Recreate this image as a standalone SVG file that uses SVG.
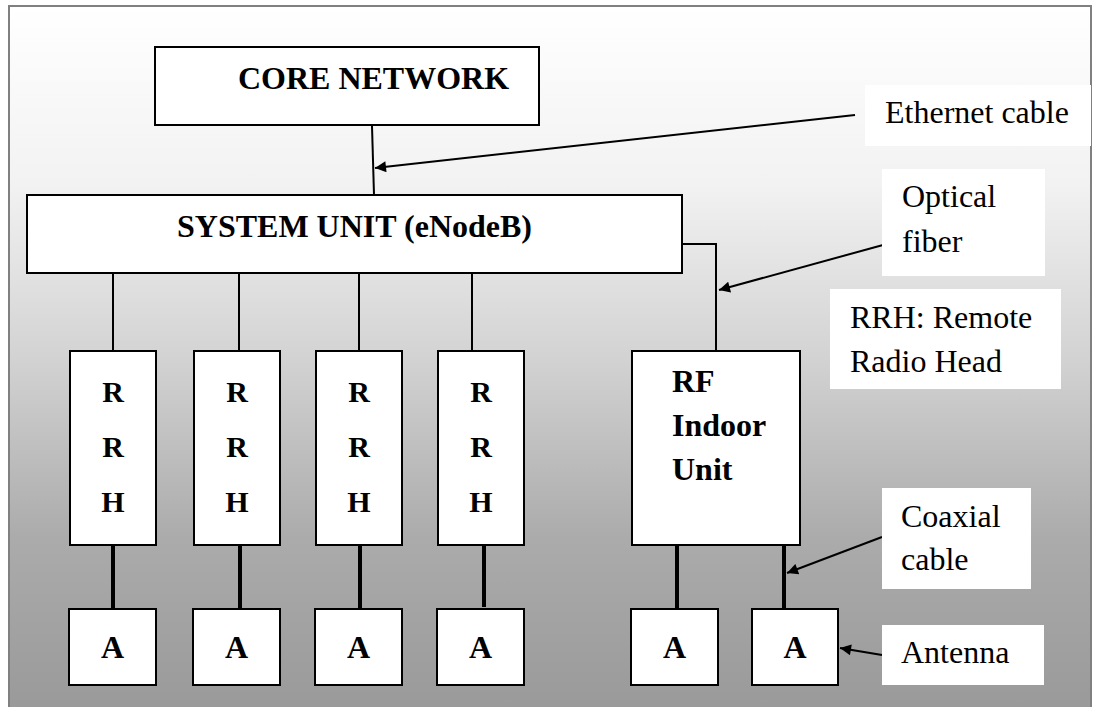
<svg xmlns="http://www.w3.org/2000/svg" width="1093" height="707" viewBox="0 0 1093 707">
  <defs>
    <linearGradient id="bg" x1="0" y1="0" x2="0" y2="1">
      <stop offset="0" stop-color="#ffffff"/>
      <stop offset="0.25" stop-color="#f2f2f2"/>
      <stop offset="0.5" stop-color="#d2d2d2"/>
      <stop offset="0.75" stop-color="#ababab"/>
      <stop offset="1" stop-color="#999999"/>
    </linearGradient>
    <marker id="arrow" viewBox="0 0 10 10" refX="10" refY="5" markerWidth="14" markerHeight="11" markerUnits="userSpaceOnUse" orient="auto">
      <path d="M0,0 L10,5 L0,10 Z" fill="#000"/>
    </marker>
    <style>
      .box { fill: #fff; stroke: #000; stroke-width: 2; }
      .note { fill: #fff; stroke: none; }
      .thin { stroke: #000; stroke-width: 2; fill: none; }
      .thick { stroke: #000; stroke-width: 4; fill: none; }
      .pointer { stroke: #000; stroke-width: 2; fill: none; marker-end: url(#arrow); }
      .bold { font-weight: bold; font-size: 32px; fill: #000; }
      .rrh { font-weight: bold; font-size: 30px; fill: #000; text-anchor: middle; }
      .label { font-size: 32px; fill: #000; }
    </style>
  </defs>

  <!-- background panel -->
  <rect x="9" y="6" width="1082" height="710" fill="url(#bg)" stroke="#808080" stroke-width="2"/>

  <!-- connectors -->
  <g id="connectors">
    <line class="thin" x1="372" y1="126" x2="374" y2="195"/>
    <line class="thin" x1="113" y1="273" x2="113" y2="351"/>
    <line class="thin" x1="239" y1="273" x2="239" y2="351"/>
    <line class="thin" x1="359" y1="273" x2="359" y2="351"/>
    <line class="thin" x1="472" y1="273" x2="472" y2="351"/>
    <polyline class="thin" points="682,244 716,244 716,358"/>
    <line class="thick" x1="113" y1="545" x2="113" y2="609"/>
    <line class="thick" x1="240" y1="545" x2="240" y2="609"/>
    <line class="thick" x1="360" y1="545" x2="360" y2="609"/>
    <line class="thick" x1="484" y1="543" x2="484" y2="607"/>
    <line class="thick" x1="677" y1="545" x2="677" y2="609"/>
    <line class="thick" x1="784" y1="545" x2="784" y2="609"/>
    <line class="pointer" x1="855" y1="115" x2="375" y2="168"/>
    <line class="pointer" x1="883" y1="245" x2="719" y2="290"/>
    <line class="pointer" x1="882" y1="537" x2="787" y2="573"/>
    <line class="pointer" x1="882" y1="655" x2="840" y2="648"/>
  </g>

  <g font-family="Liberation Serif, Times New Roman, DejaVu Serif, serif">
  <g id="core-network">
    <rect class="box" x="155" y="47" width="384" height="78"/>
    <text class="bold" x="373.5" y="89" text-anchor="middle">CORE NETWORK</text>
  </g>

  <g id="system-unit">
    <rect class="box" x="27" y="195" width="655" height="78"/>
    <text class="bold" x="354.5" y="237" text-anchor="middle">SYSTEM UNIT (eNodeB)</text>
  </g>

  <g id="rrh-1">
    <rect class="box" x="70" y="351" width="86" height="194"/>
    <text class="rrh" x="113" y="402">R</text>
    <text class="rrh" x="113" y="457">R</text>
    <text class="rrh" x="113" y="512">H</text>
  </g>
  <g id="rrh-2">
    <rect class="box" x="194" y="351" width="86" height="194"/>
    <text class="rrh" x="237" y="402">R</text>
    <text class="rrh" x="237" y="457">R</text>
    <text class="rrh" x="237" y="512">H</text>
  </g>
  <g id="rrh-3">
    <rect class="box" x="316" y="351" width="86" height="194"/>
    <text class="rrh" x="359" y="402">R</text>
    <text class="rrh" x="359" y="457">R</text>
    <text class="rrh" x="359" y="512">H</text>
  </g>
  <g id="rrh-4">
    <rect class="box" x="438" y="351" width="86" height="194"/>
    <text class="rrh" x="481" y="402">R</text>
    <text class="rrh" x="481" y="457">R</text>
    <text class="rrh" x="481" y="512">H</text>
  </g>

  <g id="rf-indoor-unit">
    <rect class="box" x="632" y="351" width="168" height="194"/>
    <text class="bold" x="672" y="392">RF</text>
    <text class="bold" x="672" y="436">Indoor</text>
    <text class="bold" x="672" y="480">Unit</text>
  </g>

  <g id="antenna-1">
    <rect class="box" x="69" y="609" width="87" height="76"/>
    <text class="bold" x="112.5" y="658" text-anchor="middle">A</text>
  </g>
  <g id="antenna-2">
    <rect class="box" x="193" y="609" width="87" height="76"/>
    <text class="bold" x="236.5" y="658" text-anchor="middle">A</text>
  </g>
  <g id="antenna-3">
    <rect class="box" x="315" y="609" width="87" height="76"/>
    <text class="bold" x="358.5" y="658" text-anchor="middle">A</text>
  </g>
  <g id="antenna-4">
    <rect class="box" x="437" y="609" width="87" height="76"/>
    <text class="bold" x="480.5" y="658" text-anchor="middle">A</text>
  </g>
  <g id="antenna-5">
    <rect class="box" x="631" y="609" width="87" height="76"/>
    <text class="bold" x="674.5" y="658" text-anchor="middle">A</text>
  </g>
  <g id="antenna-6">
    <rect class="box" x="752" y="609" width="86" height="76"/>
    <text class="bold" x="795" y="658" text-anchor="middle">A</text>
  </g>

  <g id="label-ethernet">
    <rect class="note" x="865" y="85" width="226" height="61"/>
    <text class="label" x="885" y="123">Ethernet cable</text>
  </g>
  <g id="label-optical">
    <rect class="note" x="882" y="169" width="163" height="107"/>
    <text class="label" x="902" y="207">Optical</text>
    <text class="label" x="902" y="252">fiber</text>
  </g>
  <g id="label-rrh">
    <rect class="note" x="830" y="289" width="231" height="100"/>
    <text class="label" x="850" y="328">RRH: Remote</text>
    <text class="label" x="850" y="372">Radio Head</text>
  </g>
  <g id="label-coaxial">
    <rect class="note" x="882" y="488" width="149" height="101"/>
    <text class="label" x="901" y="527">Coaxial</text>
    <text class="label" x="901" y="570">cable</text>
  </g>
  <g id="label-antenna">
    <rect class="note" x="882" y="625" width="162" height="60"/>
    <text class="label" x="901" y="663">Antenna</text>
  </g>
  </g>
</svg>
